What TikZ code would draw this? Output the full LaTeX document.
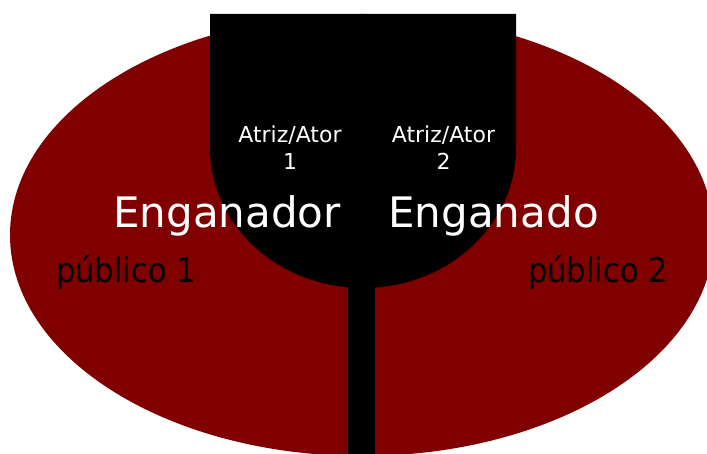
\documentclass[tikz,border=0pt]{standalone}
\usepackage{fontspec}
\setmainfont{DejaVu Sans}
\newfontfamily\condfont{DejaVu Sans Condensed}
\definecolor{maroonfill}{RGB}{128,0,0}
\begin{document}
\begin{tikzpicture}[x=1pt,y=1pt,
  actor/.style={text=white,font=\fontsize{22}{26}\selectfont,inner sep=0pt,anchor=base},
  role/.style={text=white,font=\fontsize{42}{48}\selectfont,inner sep=0pt,anchor=base},
  audience/.style={text=black,font=\condfont\fontsize{34}{40}\selectfont,inner sep=0pt,anchor=base}]
\useasboundingbox (0,0) rectangle (707,453);
\clip (0,0) rectangle (707,453);
% audience ellipse
\fill[maroonfill] (362,218) ellipse [x radius=352, y radius=221];
% stage (black shape)
\fill[black] (210,439) -- (210,305) arc[start angle=180, end angle=360, x radius=153, y radius=140] -- (516,439) -- cycle;
% stem
\fill[black] (348,-2) rectangle (375,175);
% texts
\node[actor] (a1) at (290,310) {Atriz/Ator};
\node[actor] (a1n) at (290,283) {1};
\node[actor] (a2) at (443.5,310) {Atriz/Ator};
\node[actor] (a2n) at (443.5,283) {2};
\node[role] (r1) at (227,225) {Enganador};
\node[role] (r2) at (493.5,225) {Enganado};
\node[audience] (p1) at (126,171) {público 1};
\node[audience] (p2) at (598,171) {público 2};
\end{tikzpicture}
\end{document}
